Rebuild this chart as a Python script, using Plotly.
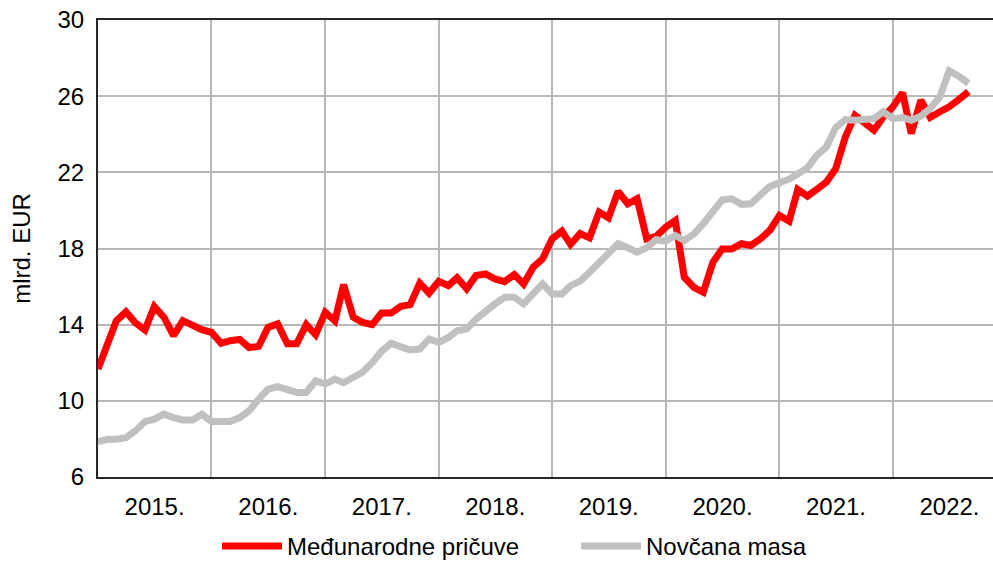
import pandas as pd
import plotly.graph_objects as go

months = pd.date_range("2015-01-01", periods=93, freq="MS")

reserves = [
    11.67, 13.0, 14.2, 14.68, 14.1, 13.72, 14.95, 14.39, 13.42, 14.21, 13.95, 13.74,
    13.6, 13.02, 13.16, 13.23, 12.8, 12.86, 13.86, 14.04, 13.0, 13.0, 14.0, 13.47,
    14.65, 14.2, 16.1, 14.39, 14.12, 14.0, 14.61, 14.61, 14.96, 15.05, 16.18, 15.65,
    16.28, 16.05, 16.46, 15.88, 16.58, 16.67, 16.4, 16.26, 16.63, 16.14, 17.02, 17.46,
    18.51, 18.91, 18.22, 18.79, 18.56, 19.91, 19.61, 21.0, 20.35, 20.61, 18.51, 18.63,
    19.12, 19.47, 16.49, 15.96, 15.7, 17.28, 17.98, 17.98, 18.25, 18.16, 18.51, 18.95,
    19.74, 19.44, 21.1, 20.75, 21.1, 21.49, 22.19, 23.86, 25.0, 24.65, 24.21, 24.91,
    25.44, 26.18, 24.04, 25.79, 24.88, 25.18, 25.44, 25.82, 26.23,
]

money = [
    7.86, 7.98, 7.98, 8.07, 8.42, 8.91, 9.04, 9.3, 9.12, 9.0, 9.0, 9.3,
    8.91, 8.91, 8.91, 9.12, 9.47, 10.09, 10.61, 10.74, 10.56, 10.44, 10.44, 11.05,
    10.88, 11.14, 10.95, 11.2, 11.5, 12.0, 12.6, 13.02, 12.8, 12.67, 12.72, 13.25,
    13.07, 13.33, 13.68, 13.77, 14.3, 14.74, 15.09, 15.44, 15.44, 15.09, 15.61, 16.14,
    15.61, 15.61, 16.05, 16.29, 16.75, 17.28, 17.81, 18.25, 18.04, 17.81, 18.04, 18.46,
    18.39, 18.68, 18.42, 18.77, 19.3, 19.91, 20.56, 20.61, 20.32, 20.35, 20.79, 21.26,
    21.46, 21.64, 21.91, 22.23, 22.89, 23.33, 24.35, 24.77, 24.74, 24.74, 24.82, 25.18,
    24.82, 24.88, 24.74, 24.95, 25.35, 25.96, 27.33, 27.05, 26.67,
]

years = list(range(2015, 2023))
year_labels = [f"{y}." for y in years]

FONT = "Liberation Sans, Arial, sans-serif"

fig = go.Figure()
fig.add_trace(go.Scatter(
    x=months, y=reserves, mode="lines", name="Međunarodne pričuve",
    line=dict(color="#FF0000", width=7),
))
fig.add_trace(go.Scatter(
    x=months, y=money, mode="lines", name="Novčana masa",
    line=dict(color="#C0C0C0", width=7),
))

x_end = pd.Timestamp("2015-01-01") + pd.Timedelta(days=2879)

fig.update_layout(
    width=993, height=561,
    margin=dict(l=98, r=0, t=20, b=84, autoexpand=False),
    paper_bgcolor="white", plot_bgcolor="white",
    font=dict(family=FONT, size=24, color="black"),
    showlegend=True,
    legend=dict(
        orientation="h", xref="container", x=217 / 993, xanchor="left",
        yref="container", y=1 - 524 / 561, yanchor="top",
        font=dict(size=24), entrywidth=284, entrywidthmode="pixels",
        itemwidth=60, traceorder="normal", bgcolor="rgba(0,0,0,0)",
    ),
    xaxis=dict(
        type="date", automargin=False,
        range=[pd.Timestamp("2015-01-01"), x_end],
        tickmode="array",
        tickvals=[pd.Timestamp(f"{y}-07-02") for y in years],
        ticktext=year_labels,
        showgrid=False,
        ticks="", ticklabelstandoff=7, ticklabeloverflow="allow",
        showline=True, linecolor="#262626", linewidth=2, mirror=True,
        minor=dict(
            tickmode="array",
            tickvals=[pd.Timestamp(f"{y}-01-01") for y in years[1:]],
            showgrid=True, gridcolor="#B8B8B8", gridwidth=1.5, ticks="",
        ),
        zeroline=False,
    ),
    yaxis=dict(
        range=[6, 30], tickvals=[6, 10, 14, 18, 22, 26, 30],
        automargin=False,
        showgrid=True, gridcolor="#B8B8B8", gridwidth=1.5,
        ticks="", ticklabelstandoff=7, ticklabeloverflow="allow",
        showline=True, linecolor="#262626", linewidth=2,
        zeroline=False,
        title=dict(text="mlrd. EUR", font=dict(size=24), standoff=20),
    ),
)

fig.write_html(
    "out.html",
    config={"displayModeBar": False},
    post_script="document.body.style.margin='0';",
)
